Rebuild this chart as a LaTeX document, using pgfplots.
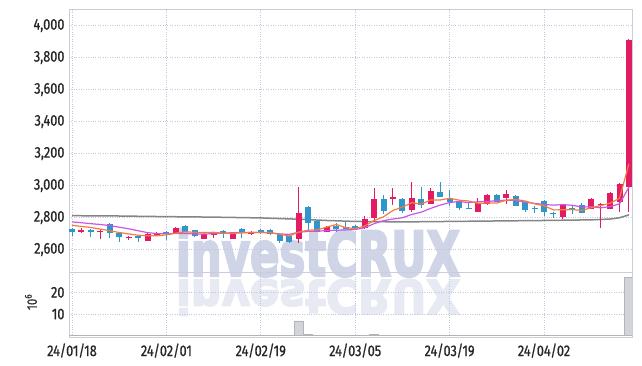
\documentclass[border=0pt]{standalone}
\usepackage{pgfplots}
\pgfplotsset{compat=1.18}
\usepackage{pgfplotstable}
\usepackage{fontspec}
\setmainfont{Fira Sans}[FakeStretch=0.82, FakeBold=0.9]
\newfontfamily\wmfont{DejaVu Sans}[BoldFeatures={FakeBold=4}]
\definecolor{cred}{HTML}{E31B63}
\definecolor{cblue}{HTML}{2E96CA}
\definecolor{corange}{HTML}{F07F3C}
\definecolor{cmag}{HTML}{CC55E6}
\definecolor{cgray}{HTML}{858585}
\definecolor{gridc}{HTML}{C2C7DE}
\definecolor{framec}{HTML}{CBCDD8}
\definecolor{volc}{HTML}{D3D3DB}
\definecolor{wm}{HTML}{CFD5E7}
\definecolor{wmr}{HTML}{E7EAF2}

% up candles (close > open)
\pgfplotstableread{
i o h l c
1 2710 2732 2705 2725
3 2712 2730 2668 2718
6 2670 2684 2662 2680
8 2656 2702 2654 2700
9 2688 2712 2684 2706
11 2706 2740 2700 2737
14 2669 2702 2665 2700
15 2690 2712 2675 2706
17 2669 2710 2665 2706
19 2700 2714 2690 2712
24 2669 2994 2644 2831
27 2712 2750 2708 2744
31 2737 2812 2730 2794
32 2800 2987 2775 2919
34 2919 2987 2881 2931
36 2850 3025 2837 2925
38 2887 2987 2884 2969
43 2837 2925 2835 2894
44 2887 2948 2881 2944
46 2925 2975 2887 2950
52 2806 2884 2794 2881
55 2856 2925 2853 2919
56 2881 2890 2737 2887
57 2856 2962 2853 2956
58 2900 3015 2837 3012
59 2994 3915 2837 3912
}\up

% down candles (close < open)
\pgfplotstableread{
i o h l c
0 2730 2732 2682 2708
2 2725 2728 2680 2710
4 2762 2765 2675 2706
5 2706 2708 2650 2676
7 2688 2690 2650 2670
10 2712 2715 2662 2702
12 2750 2752 2708 2712
13 2720 2722 2680 2685
16 2718 2720 2675 2706
18 2731 2733 2675 2706
20 2725 2727 2700 2706
21 2725 2727 2694 2700
22 2700 2702 2644 2656
23 2687 2690 2644 2650
25 2869 2872 2719 2769
26 2781 2783 2708 2712
28 2750 2769 2712 2731
29 2744 2770 2728 2731
30 2750 2752 2733 2737
33 2919 2944 2825 2844
35 2919 2921 2831 2844
37 2919 2994 2862 2881
39 2962 3025 2928 2931
40 2919 2975 2875 2900
41 2906 2908 2850 2862
42 2862 2900 2853 2856
45 2944 2950 2897 2900
47 2937 2940 2870 2875
48 2900 2902 2837 2850
49 2862 2875 2831 2856
50 2906 2908 2812 2837
51 2826 2837 2800 2822
53 2859 2875 2825 2855
54 2881 2890 2828 2831
}\down

% moving averages
\pgfplotstableread{
i ma5 ma10
0 2752 2773
1 2745 2768
2 2738 2762
3 2728 2757
4 2718 2750
5 2707 2740
6 2698 2730
7 2690 2718
8 2686 2706
9 2686 2700
10 2692 2699
11 2703 2701
12 2711 2701
13 2708 2697
14 2707 2697
15 2708 2700
16 2702 2702
17 2701 2706
18 2705 2707
19 2707 2707
20 2707 2708
21 2706 2704
22 2696 2698
23 2685 2695
24 2709 2708
25 2721 2714
26 2724 2715
27 2741 2719
28 2757 2721
29 2737 2723
30 2731 2726
31 2747 2736
32 2782 2762
33 2805 2781
34 2845 2791
35 2866 2799
36 2893 2820
37 2885 2834
38 2910 2858
39 2910 2878
40 2921 2894
41 2909 2901
42 2904 2894
43 2889 2899
44 2891 2901
45 2891 2906
46 2909 2909
47 2913 2908
48 2904 2896
49 2886 2889
50 2874 2882
51 2848 2878
52 2849 2881
53 2850 2877
54 2845 2866
55 2862 2868
56 2875 2861
57 2890 2869
58 2921 2886
59 3137 2991
}\ma

\pgfplotstableread{
i ma60
0 2812
5 2810
10 2806
15 2803
20 2798
24 2790
27 2782
30 2776
35 2773
40 2776
45 2779
50 2782
55 2786
57 2791
58 2799
59 2817
}\malong

\pgfplotstableread{
i v
0 0.2
1 0.15
2 0.15
3 0.2
4 0.2
5 0.2
6 0.1
7 0.15
8 0.2
9 0.1
10 0.15
11 0.2
12 0.2
13 0.15
14 0.15
15 0.1
16 0.1
17 0.15
18 0.15
19 0.1
20 0.1
21 0.15
22 0.2
23 0.2
24 6.8
25 0.6
26 0.3
27 0.2
28 0.2
29 0.2
30 0.2
31 0.3
32 0.5
33 0.3
34 0.3
35 0.2
36 0.3
37 0.2
38 0.3
39 0.2
40 0.2
41 0.2
42 0.15
43 0.2
44 0.2
45 0.15
46 0.2
47 0.15
48 0.15
49 0.1
50 0.2
51 0.1
52 0.15
53 0.1
54 0.1
55 0.15
56 0.15
57 0.2
58 0.3
59 26.8
}\vol

\pgfplotsset{
  candle/.style={draw=none, mark=none, forget plot},
  common/.style={
    scale only axis, anchor=south west, width=563pt,
    xmin=-0.32, xmax=59.32,
    xtick={0,10,20,30,40,50},
    grid=major,
    grid style={dotted, color=gridc, line width=0.7pt},
    axis line style={draw=framec, line width=0.8pt},
    major tick length=0pt,
    tick style={draw=none},
    /pgf/number format/assume math mode=true,
    /pgf/number format/1000 sep={,},
    ticklabel style={font=\fontsize{15.5}{16}\selectfont, text=black!85},
    yticklabel style={xshift=-1pt},
  }
}

\begin{document}
\begin{tikzpicture}
\useasboundingbox (0,0) rectangle (642pt,366pt);
% watermark
\node[anchor=base, text=wm, xscale=0.70, inner sep=0pt, font=\wmfont\bfseries\fontsize{62}{62}\selectfont] at (318pt,90pt) {investCRUX};
\node[anchor=base, text=wmr, xscale=0.70, yscale=-0.75, inner sep=0pt, font=\wmfont\bfseries\fontsize{62}{62}\selectfont] at (318pt,86pt) {investCRUX};

\begin{axis}[common, at={(69pt,94pt)}, height=263pt,
  ymin=2460, ymax=4104,
  ytick={2600,2800,3000,3200,3400,3600,3800,4000},
  xticklabels={}]
  % long MA
  \addplot[cgray, line width=1.5pt] table[x=i, y=ma60] {\malong};
  % candles: wicks
  \addplot[candle, error bars/.cd, y dir=plus, y explicit, error mark=none,
    error bar style={draw=cred, line width=1pt}]
    table[x=i, y=l, y error plus expr=\thisrow{h}-\thisrow{l}] {\up};
  \addplot[candle, error bars/.cd, y dir=plus, y explicit, error mark=none,
    error bar style={draw=cblue, line width=1pt}]
    table[x=i, y=l, y error plus expr=\thisrow{h}-\thisrow{l}] {\down};
  % candles: bodies
  \addplot[candle, error bars/.cd, y dir=plus, y explicit, error mark=none,
    error bar style={draw=cred, line width=6pt}]
    table[x=i, y=o, y error plus expr=\thisrow{c}-\thisrow{o}] {\up};
  \addplot[candle, error bars/.cd, y dir=plus, y explicit, error mark=none,
    error bar style={draw=cblue, line width=6pt}]
    table[x=i, y=c, y error plus expr=\thisrow{o}-\thisrow{c}] {\down};
  % moving averages
  \addplot[cmag, line width=1.2pt] table[x=i, y=ma10] {\ma};
  \addplot[corange, line width=1.2pt] table[x=i, y=ma5] {\ma};
\end{axis}

\begin{axis}[common, at={(69pt,29pt)}, height=65pt,
  ymin=-0.6, ymax=29.4,
  ytick={10,20},
  xticklabels={24/01/18,24/02/01,24/02/19,24/03/05,24/03/19,24/04/02},
  xticklabel style={yshift=-3pt}]
  \addplot[ybar, bar width=0.95, fill=volc, draw=volc!85!black, line width=0.4pt] table[x=i, y=v] {\vol};
\end{axis}

\node[rotate=90, font=\fontsize{14}{15}\selectfont, text=black!80] at (31pt,64pt) {10\textsuperscript{6}};
\end{tikzpicture}
\end{document}
